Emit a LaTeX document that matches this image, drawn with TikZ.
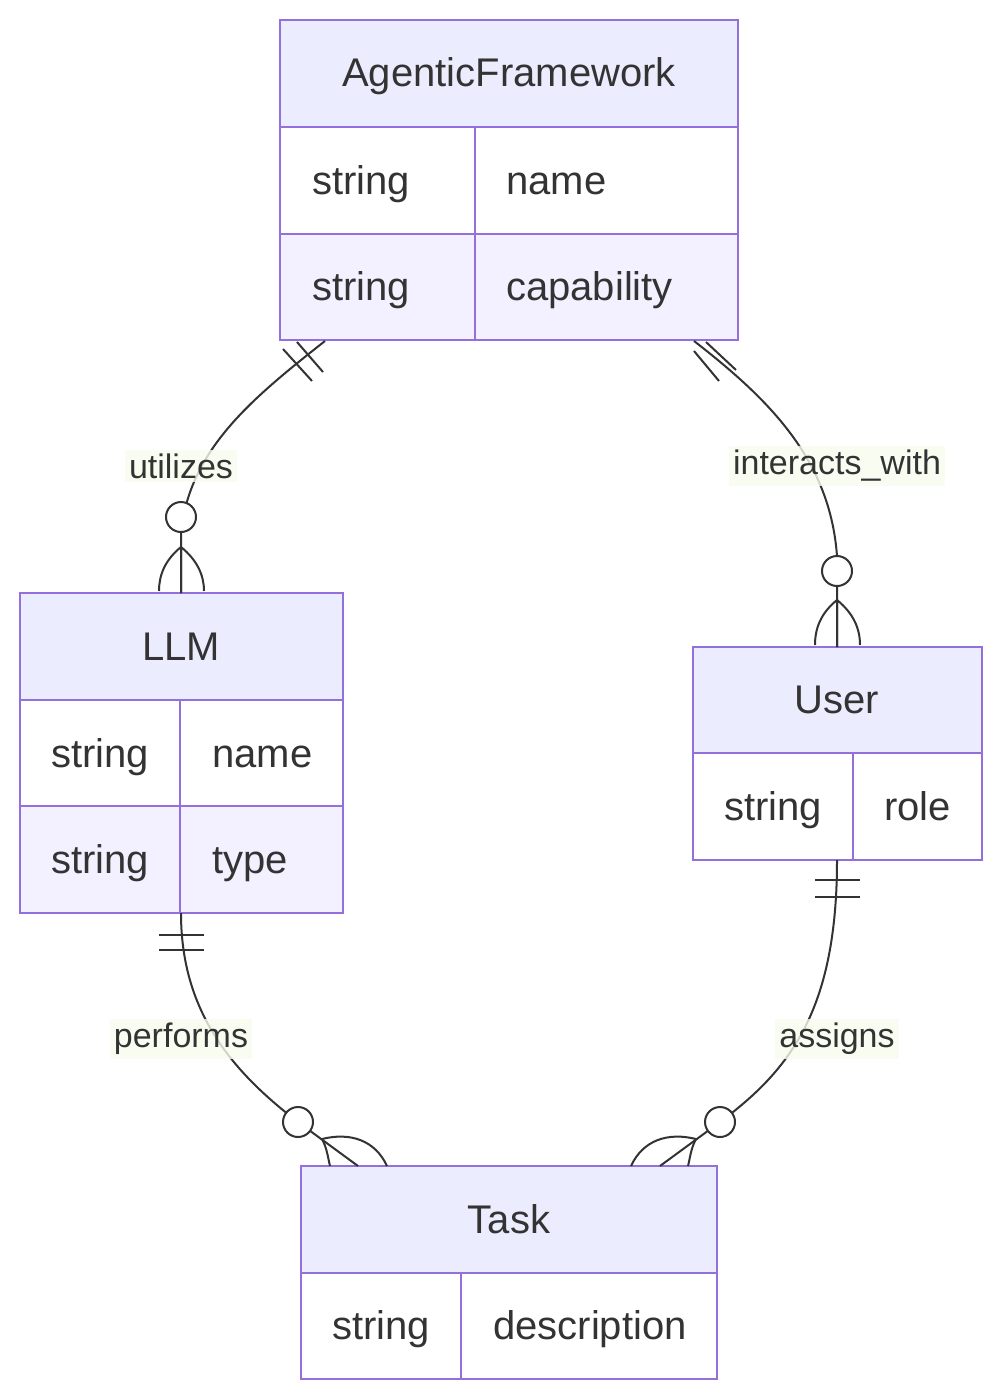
\documentclass[tikz,border=0pt]{standalone}
\usepackage{fontspec}
\setmainfont{Liberation Sans}
\definecolor{erline}{HTML}{9370DB}
\definecolor{erhead}{HTML}{ECECFF}
\definecolor{errow}{HTML}{F3F1FF}
\definecolor{ertext}{HTML}{333333}
\definecolor{erlabel}{HTML}{F8FCEE}
\tikzset{
  box/.style={draw=erline, line width=2.2pt},
  etext/.style={text=ertext, font=\fontsize{40}{46}\selectfont, inner sep=0pt, anchor=base},
  atext/.style={text=ertext, font=\fontsize{40}{46}\selectfont, inner sep=0pt, anchor=base west},
  rel/.style={draw=ertext, line width=2pt},
  rlabel/.style={fill=erlabel, fill opacity=0.8, text opacity=1, text=ertext, font=\fontsize{34}{40}\selectfont, inner sep=4pt}
}
\begin{document}
\begin{tikzpicture}[x=1pt,y=-1pt]
\useasboundingbox (0,0) rectangle (1002,1399);

% AgenticFramework
\fill[erhead] (280,20) rectangle (738,127);
\fill[white] (280,127) rectangle (738,234);
\fill[errow] (280,234) rectangle (738,340);
\draw[box] (280,20) rectangle (738,340) (280,127) -- (738,127) (280,234) -- (738,234) (475,127) -- (475,340);
\node[etext] (af) at (509,87) {AgenticFramework};
\node[atext] (af1) at (312,194) {string};
\node[atext] (af2) at (506,194) {name};
\node[atext] (af3) at (312,300) {string};
\node[atext] (af4) at (506,300) {capability};

% LLM
\fill[erhead] (20,593) rectangle (343,700);
\fill[white] (20,700) rectangle (343,806);
\fill[errow] (20,806) rectangle (343,913);
\draw[box] (20,593) rectangle (343,913) (20,700) -- (343,700) (20,806) -- (343,806) (180,700) -- (180,913);
\node[etext] (llm) at (181,660) {LLM};
\node[atext] (llm1) at (51,767) {string};
\node[atext] (llm2) at (212,767) {name};
\node[atext] (llm3) at (51,873) {string};
\node[atext] (llm4) at (212,873) {type};

% User
\fill[erhead] (693,647) rectangle (982,753);
\fill[white] (693,753) rectangle (982,860);
\draw[box] (693,647) rectangle (982,860) (693,753) -- (982,753) (853,753) -- (853,860);
\node[etext] (usr) at (837,713) {User};
\node[atext] (usr1) at (724,820) {string};
\node[atext] (usr2) at (884,820) {role};

% Task
\fill[erhead] (301,1166) rectangle (717,1273);
\fill[white] (301,1273) rectangle (717,1379);
\draw[box] (301,1166) rectangle (717,1379) (301,1273) -- (717,1273) (461,1273) -- (461,1379);
\node[etext] (tsk) at (509,1233) {Task};
\node[atext] (tsk1) at (332,1339) {string};
\node[atext] (tsk2) at (493,1339) {description};

% relations
\draw[rel] (325,341) .. controls (250,400) and (190,450) .. (181,532) -- (181,593);
\draw[rel] (283,349) -- (312,381) (297,342) -- (323,372);
\draw[rel, fill=white] (181,517) circle (15);
\draw[rel] (181,547) -- (181,593) (181,547) .. controls (165,560) and (159,575) .. (159,591) (181,547) .. controls (197,560) and (204,575) .. (204,591);
\node[rlabel] (l1) at (181,466) {utilizes};

\draw[rel] (694,341) .. controls (770,400) and (830,460) .. (837,556) -- (837,647);
\draw[rel] (694,351) -- (719,381) (706,342) -- (736,370);
\draw[rel, fill=white] (837,571) circle (15);
\draw[rel] (837,600) -- (837,647) (837,600) .. controls (821,613) and (815,628) .. (815,645) (837,600) .. controls (853,613) and (860,628) .. (860,645);
\node[rlabel] (l2) at (837,466) {interacts\_with};

\draw[rel] (181,913) .. controls (181,1010) and (230,1070) .. (298,1122) -- (358,1166);
\draw[rel] (159,935) -- (204,935) (159,950) -- (204,950);
\draw[rel, fill=white] (298,1122) circle (15);
\draw[rel] (322,1139) .. controls (327,1148) and (328,1158) .. (330,1166) (322,1139) .. controls (350,1132) and (375,1140) .. (387,1166);
\node[rlabel] (l3) at (181,1039) {performs};

\draw[rel] (837,860) .. controls (837,1010) and (790,1070) .. (720,1122) -- (660,1166);
\draw[rel] (815,880) -- (860,880) (815,897) -- (860,897);
\draw[rel, fill=white] (720,1122) circle (15);
\draw[rel] (696,1139) .. controls (691,1148) and (690,1158) .. (688,1166) (696,1139) .. controls (668,1132) and (643,1140) .. (631,1166);
\node[rlabel] (l4) at (837,1039) {assigns};
\end{tikzpicture}
\end{document}
